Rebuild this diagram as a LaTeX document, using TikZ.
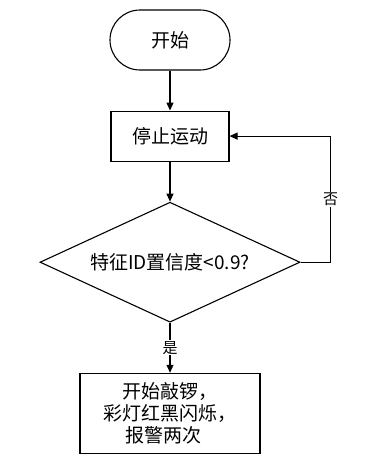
\documentclass[tikz,border=0pt]{standalone}
\usepackage{fontspec}
\setmainfont{Noto Sans CJK SC}
\usepackage{tikz}
\usetikzlibrary{arrows.meta,positioning,shapes.geometric}
\tikzset{
  inicio/.style={
    rounded corners=30pt,
    draw=black,
    fill=white,
    line width=1.1pt,
    align=center,
    minimum width=120pt,
    minimum height=60pt,
    font=\fontsize{19pt}{22pt}\selectfont
  },
  bloque/.style={
    draw=black,
    fill=white,
    line width=1.1pt,
    align=center,
    minimum width=118pt,
    minimum height=50pt,
    inner sep=3pt,
    font=\fontsize{19pt}{22pt}\selectfont
  },
  decision/.style={
    diamond,
    draw=black,
    fill=white,
    line width=1.1pt,
    align=center,
    inner sep=0pt,
    shape aspect=2.17,
    minimum width=260pt,
    minimum height=120pt,
    font=\fontsize{19pt}{22pt}\selectfont
  },
  etiqueta/.style={
    fill=white,
    inner sep=1pt,
    font=\fontsize{15pt}{18pt}\selectfont
  },
  arrow/.style={
    -{Triangle[length=8pt,width=7pt]},
    line width=1.1pt,
    black
  }
}

\begin{document}
\begin{tikzpicture}[node distance=40pt]
\path[use as bounding box] (0pt,0pt) rectangle (370pt,-471pt);
\node[inicio] (start) at (170pt,-40pt) {开始};
\node[bloque,below=of start] (stop) {停止运动};
\node[decision,below=of stop] (dec) {特征ID置信度<0.9?};
\node[bloque,minimum width=180pt,minimum height=80pt,below=50pt of dec] (alarm) {开始敲锣，\\彩灯红黑闪烁，\\报警两次\hspace*{14pt}};
\draw[arrow] (start) -- (stop);
\draw[arrow] (stop) -- (dec);
\draw[arrow] (dec.south) -- node[etiqueta]{是} (alarm.north);
\draw[arrow] (dec.east) -- ++(30pt,0) coordinate (giro) |- node[etiqueta,pos=.25]{否} (stop.east);
\end{tikzpicture}
\end{document}
